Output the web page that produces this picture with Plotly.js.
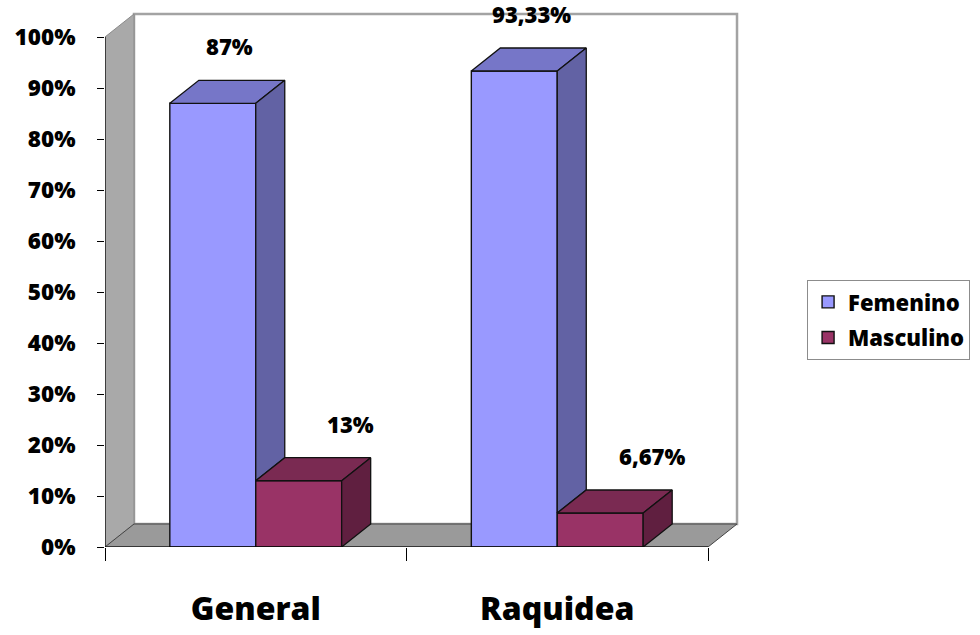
<!DOCTYPE html>
<html>
<head>
<meta charset="utf-8">
<script src="https://cdn.plot.ly/plotly-3.0.1.min.js"></script>
<style>
  html, body { margin: 0; padding: 0; background: #ffffff; }
  #chart { width: 980px; height: 635px; }
</style>
</head>
<body>
<div id="chart"></div>
<script>
// Distribución por sexo (porcentaje) en cada grupo
const categories = ['General', 'Raquidea'];
const seriesNames = ['Femenino', 'Masculino'];
const femenino = [87, 93.33];
const masculino = [13, 6.67];
const yTickValues = [0, 10, 20, 30, 40, 50, 60, 70, 80, 90, 100];

// ---- styling / 3D geometry (axis units) ----
const FONT = 'Open Sans, Lato, DejaVu Sans, sans-serif';
const WEIGHT = 800;
const BAR_W = 0.285;      // bar width in category units
const DX = 0.0962;        // depth offset along x (category units)
const DY = 4.51;          // depth offset along y (percent units)
const X_MAX = 2.1227;     // right end of x range
const Y_MAX = 105.294;    // top end of y range
const palette = [
  { front: '#9999FF', top: '#7676C8', side: '#6262A4' },
  { front: '#993366', top: '#7A2A52', side: '#601F40' }
];
const labelShift = [17, 52];

const series = [femenino, masculino];
const centers = categories.map((c, i) => i + 0.5);

function fmtPct(v) {
  return (Number.isInteger(v) ? String(v) : v.toFixed(2).replace('.', ',')) + '%';
}

const traces = [];
const faceTraces = [];
const annotations = [];

series.forEach((vals, s) => {
  const off = s === 0 ? -BAR_W : 0;
  // front faces
  traces.push({
    type: 'bar',
    name: seriesNames[s],
    x: centers,
    y: vals,
    offset: off,
    width: BAR_W,
    marker: { color: palette[s].front, line: { color: '#111', width: 1.4 } },
    legendgroup: 'g' + s,
    hoverinfo: 'skip'
  });

  vals.forEach((v, i) => {
    const x0 = centers[i] + off;
    const x1 = x0 + BAR_W;
    // top face
    faceTraces.push({
      type: 'scatter', mode: 'lines', fill: 'toself', showlegend: false, hoverinfo: 'skip',
      x: [x0, x1, x1 + DX, x0 + DX, x0],
      y: [v, v, v + DY, v + DY, v],
      fillcolor: palette[s].top, line: { color: '#111', width: 1.3 }
    });
    // right side face (the part not hidden by the next box in the group)
    const next = series[s + 1];
    const low = next ? Math.min(next[i], v) : 0;
    if (low < v) {
      faceTraces.push({
        type: 'scatter', mode: 'lines', fill: 'toself', showlegend: false, hoverinfo: 'skip',
        x: [x1, x1, x1 + DX, x1 + DX, x1],
        y: [low, v, v + DY, low + DY, low],
        fillcolor: palette[s].side, line: { color: '#111', width: 1.3 }
      });
    }
    // value label
    annotations.push({
      x: x0 + BAR_W / 2, y: v + DY, xref: 'x', yref: 'y',
      text: fmtPct(v), showarrow: false,
      xanchor: 'center', yanchor: 'bottom', xshift: labelShift[s], yshift: 17,
      font: { family: FONT, size: 22, color: '#000', weight: WEIGHT }
    });
  });
});

const nCat = categories.length;
const shapes = [
  // back wall
  { type: 'rect', xref: 'x', yref: 'y', layer: 'below',
    x0: DX, x1: nCat + DX, y0: DY, y1: 100 + DY,
    fillcolor: '#ffffff', line: { color: '#a3a3a3', width: 2.5 } },
  // side wall
  { type: 'path', xref: 'x', yref: 'y', layer: 'below',
    path: `M0,0 L0,100 L${DX},${100 + DY} L${DX},${DY} Z`,
    fillcolor: '#a9a9a9', line: { color: '#8a8a8a', width: 1 } },
  // floor
  { type: 'path', xref: 'x', yref: 'y', layer: 'below',
    path: `M0,0 L${nCat},0 L${nCat + DX},${DY} L${DX},${DY} Z`,
    fillcolor: '#9a9a9a', line: { color: '#444', width: 1 } },
  // value axis line
  { type: 'line', xref: 'x', yref: 'y', layer: 'above',
    x0: 0, x1: 0, y0: 0, y1: 100, line: { color: '#000', width: 1.2 } },
  // category axis line
  { type: 'line', xref: 'x', yref: 'y', layer: 'above',
    x0: 0, x1: nCat, y0: 0, y1: 0, line: { color: '#000', width: 1.2 } }
];

const layout = {
  width: 980, height: 635,
  margin: { l: 105, r: 235, t: 10, b: 88 },
  paper_bgcolor: '#ffffff', plot_bgcolor: 'rgba(0,0,0,0)',
  showlegend: true,
  barmode: 'overlay',
  font: { family: FONT, color: '#000' },
  xaxis: {
    range: [0, X_MAX], showgrid: false, zeroline: false, showline: false,
    tickmode: 'array', tickvals: centers, ticktext: categories, ticks: '',
    ticklabelstandoff: 40,
    tickfont: { family: FONT, size: 32, color: '#000', weight: WEIGHT },
    minor: { tickmode: 'array', tickvals: categories.map((c, i) => i).concat([nCat]),
             ticks: 'outside', ticklen: 13, tickwidth: 1, tickcolor: '#000', showgrid: false },
    fixedrange: true
  },
  yaxis: {
    range: [0, Y_MAX], showgrid: false, zeroline: false, showline: false,
    tickmode: 'array', tickvals: yTickValues, ticktext: yTickValues.map(v => v + '%'),
    ticks: 'outside', ticklen: 7, tickwidth: 1, tickcolor: '#000',
    ticklabelstandoff: 17,
    tickfont: { family: FONT, size: 22.5, color: '#000', weight: WEIGHT },
    fixedrange: true
  },
  legend: {
    x: 1.097, xanchor: 'left', y: 0.497, yanchor: 'top',
    bordercolor: '#8c8c8c', borderwidth: 1, bgcolor: '#ffffff',
    traceorder: 'grouped', tracegroupgap: 4,
    font: { family: FONT, size: 22, color: '#000', weight: WEIGHT }
  },
  shapes: shapes,
  annotations: annotations
};

Plotly.newPlot('chart', traces.concat(faceTraces), layout, { displayModeBar: false, staticPlot: true });
</script>
</body>
</html>
